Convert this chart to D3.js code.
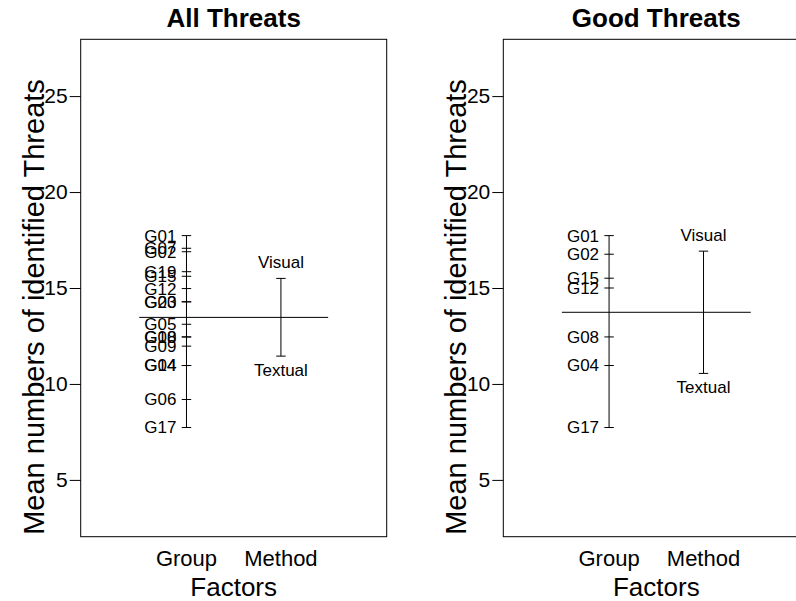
<!DOCTYPE html>
<html>
<head>
<meta charset="utf-8">
<script src="https://cdn.jsdelivr.net/npm/d3@7"></script>
<style>
  body { margin: 0; background: #fff; }
  svg { font-family: "Liberation Sans", Arial, sans-serif; }
</style>
</head>
<body>
<div id="cont"></div>
<script>
// left panel: all threats
var allGroups = ["G01","G07","G02","G19","G15","G12","G20","G03","G05","G08","G10","G09","G04","G14","G06","G17"];
var allGroupMeans = [17.73,17.07,16.89,15.85,15.61,14.97,14.28,14.28,13.11,12.45,12.45,11.97,10.96,10.96,9.19,7.73];
var allMethods = ["Visual","Textual"];
var allMethodMeans = [15.5,11.45];

// right panel: good threats
var goodGroups = ["G01","G02","G15","G12","G08","G04","G17"];
var goodGroupMeans = [17.73,16.76,15.51,15.0,12.45,10.96,7.73];
var goodMethods = ["Visual","Textual"];
var goodMethodMeans = [16.92,10.55];

var factors = ["Group","Method"];
var yTicks = [5,10,15,20,25];

var width = 796, height = 601;
var svg = d3.select("#cont").append("svg")
  .attr("width", width).attr("height", height);

function drawPanel(left, title, groups, gMeans, methods, mMeans){
  var boxW = 306, top = 39.3, bottom = 536.7;
  var x = d3.scaleLinear().domain([-0.12, 3.12]).range([left, left + boxW]);
  var y = d3.scaleLinear().domain([2.04, 27.96]).range([bottom, top]);
  var g = svg.append("g");

  // box
  g.append("rect")
    .attr("x", left).attr("y", top)
    .attr("width", boxW).attr("height", bottom - top)
    .attr("fill", "none").attr("stroke", "#000").attr("stroke-width", 1);

  // y axis
  var yAxis = d3.axisLeft(y).tickValues(yTicks).tickSize(11).tickPadding(2);
  var ax = g.append("g").attr("transform", "translate(" + left + ",0)").call(yAxis);
  ax.select(".domain").remove();
  ax.selectAll("text").attr("font-size", 21).attr("fill", "#000")
    .attr("font-family", "Liberation Sans, Arial, sans-serif");
  ax.selectAll("line").attr("stroke", "#000");

  // grand mean line
  var grand = d3.mean(gMeans);
  g.append("line")
    .attr("x1", x(0.5)).attr("x2", x(2.5))
    .attr("y1", y(grand)).attr("y2", y(grand))
    .attr("stroke", "#000");

  var sets = [
    {pos: 1, names: groups, vals: gMeans},
    {pos: 2, names: methods, vals: mMeans}
  ];
  sets.forEach(function(s){
    var cx = x(s.pos);
    g.append("line")
      .attr("x1", cx).attr("x2", cx)
      .attr("y1", y(d3.max(s.vals))).attr("y2", y(d3.min(s.vals)))
      .attr("stroke", "#000");
    g.selectAll(null).data(s.vals).enter().append("line")
      .attr("x1", x(s.pos - 0.05)).attr("x2", x(s.pos + 0.05))
      .attr("y1", function(d){ return y(d); })
      .attr("y2", function(d){ return y(d); })
      .attr("stroke", "#000");
  });

  // group labels to the left
  g.selectAll(null).data(groups).enter().append("text")
    .attr("x", x(1) - 10)
    .attr("y", function(d, i){ return y(gMeans[i]); })
    .attr("dy", "0.35em")
    .attr("text-anchor", "end")
    .attr("font-size", 17)
    .text(function(d){ return d; });

  // method labels above / below
  methods.forEach(function(m, i){
    var hi = mMeans[i] === d3.max(mMeans);
    g.append("text")
      .attr("x", x(2))
      .attr("y", hi ? y(mMeans[i]) - 10 : y(mMeans[i]) + 20)
      .attr("text-anchor", "middle")
      .attr("font-size", 17)
      .text(m);
  });

  // x factor labels
  g.selectAll(null).data(factors).enter().append("text")
    .attr("x", function(d, i){ return x(i + 1); })
    .attr("y", 566)
    .attr("text-anchor", "middle")
    .attr("font-size", 22)
    .text(function(d){ return d; });

  g.append("text")
    .attr("x", left + boxW / 2).attr("y", 596)
    .attr("text-anchor", "middle").attr("font-size", 26)
    .text("Factors");

  g.append("text")
    .attr("transform", "translate(" + (left - 37) + "," + 307 + ") rotate(-90)")
    .attr("text-anchor", "middle").attr("font-size", 29)
    .text("Mean numbers of identified Threats");

  g.append("text")
    .attr("x", left + boxW / 2).attr("y", 27.3)
    .attr("text-anchor", "middle").attr("font-size", 26)
    .attr("font-weight", "bold")
    .text(title);
}

drawPanel(80.7, "All Threats", allGroups, allGroupMeans, allMethods, allMethodMeans);
drawPanel(503.3, "Good Threats", goodGroups, goodGroupMeans, goodMethods, goodMethodMeans);
</script>
</body>
</html>
